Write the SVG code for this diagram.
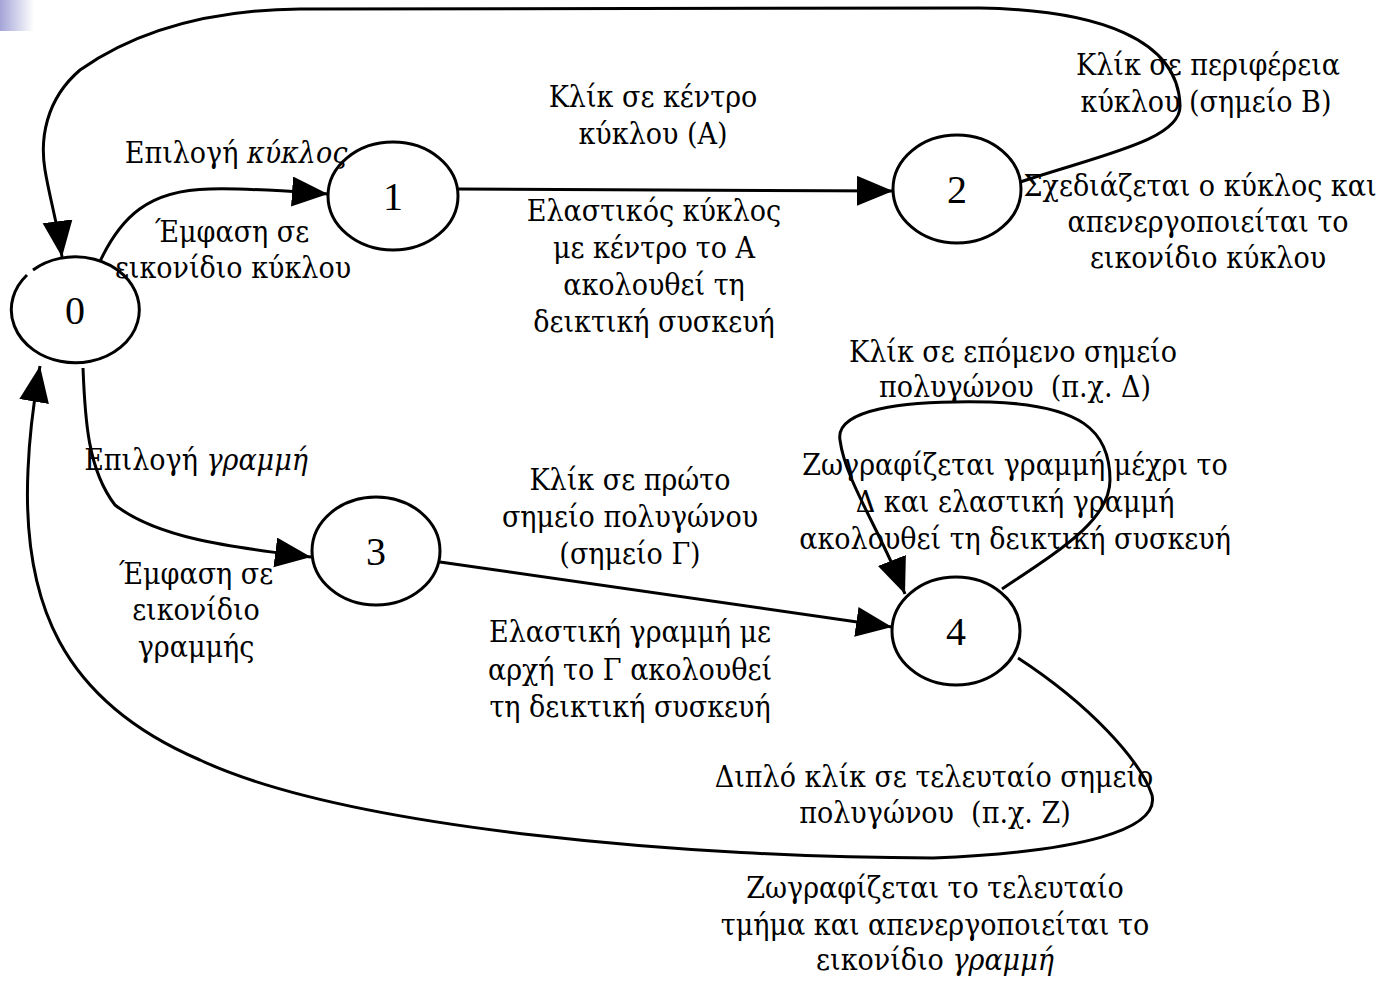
<svg xmlns="http://www.w3.org/2000/svg" width="1388" height="984" viewBox="0 0 1388 984">
<defs>
<linearGradient id="corner" x1="0" y1="0" x2="1" y2="0">
<stop offset="0" stop-color="#a4a4d8"/>
<stop offset="1" stop-color="#ffffff"/>
</linearGradient>
<marker id="arr" markerUnits="userSpaceOnUse" markerWidth="38" markerHeight="32" refX="36" refY="15" orient="auto">
<path d="M0,0 L36,15 L0,30 z" fill="#000"/>
</marker>
<style>
.node{fill:#fff;stroke:#000;stroke-width:3}
.edge{fill:none;stroke:#000;stroke-width:3}
.nl{font-family:"Liberation Serif","Times New Roman",serif;font-size:40px;text-anchor:middle;fill:#000}
.lb{font-family:"DejaVu Serif Condensed","DejaVu Serif",serif;font-size:30px;text-anchor:middle;fill:#000}
.it{font-style:italic}
</style>
</defs>
<rect width="1388" height="984" fill="#fff"/>
<rect x="0" y="0" width="34" height="31" fill="url(#corner)"/>

<g id="connectors">
<path class="edge" d="M97,268 C120,215 150,190 210,189 C250,188 285,191 328,194" marker-end="url(#arr)"/>
<path class="edge" d="M458,189 L893,191" marker-end="url(#arr)"/>
<path class="edge" d="M1017,183 C1100,155 1182,140 1180,105 C1178,40 1100,10 980,8 L300,9 C200,10 130,35 80,70 C45,100 40,140 45,170 C50,200 58,225 62,257" marker-end="url(#arr)"/>
<path class="edge" d="M83,368 C85,420 88,470 115,505 C160,540 240,548 311,557" marker-end="url(#arr)"/>
<path class="edge" d="M440,562 L892,627" marker-end="url(#arr)"/>
<path class="edge" d="M1002,589 C1060,550 1110,520 1110,480 C1110,430 1080,405 990,402 C900,400 835,410 840,440 C845,480 880,530 905,594" marker-end="url(#arr)"/>
<path class="edge" d="M1018,658 C1090,705 1140,760 1152,795 C1160,830 1080,852 933,858 C700,858 350,830 200,760 C60,700 22,600 28,470 C30,420 36,390 40,366" marker-end="url(#arr)"/>
</g>

<g id="node0">
<path class="node" d="M33,270 A64,53 0 1,1 27,275"/>
<text class="nl" x="75" y="324">0</text>
</g>
<g id="node1">
<ellipse class="node" cx="393" cy="196" rx="65" ry="54"/>
<text class="nl" x="393" y="210">1</text>
</g>
<g id="node2">
<ellipse class="node" cx="957" cy="189" rx="64" ry="54"/>
<text class="nl" x="957" y="203">2</text>
</g>
<g id="node3">
<ellipse class="node" cx="376" cy="551" rx="64" ry="54"/>
<text class="nl" x="376" y="565">3</text>
</g>
<g id="node4">
<ellipse class="node" cx="956" cy="631" rx="64" ry="54"/>
<text class="nl" x="956" y="645">4</text>
</g>

<g id="labels">
<text class="lb" x="236" y="163">Επιλογή <tspan class="it">κύκλος</tspan></text>
<text class="lb" x="232" y="242">Έμφαση σε</text>
<text class="lb" x="233" y="278">εικονίδιο κύκλου</text>

<text class="lb" x="653" y="107">Κλίκ σε κέντρο</text>
<text class="lb" x="653" y="144">κύκλου (Α)</text>
<text class="lb" x="654" y="221">Ελαστικός κύκλος</text>
<text class="lb" x="654" y="258">με κέντρο το Α</text>
<text class="lb" x="654" y="295">ακολουθεί τη</text>
<text class="lb" x="654" y="332">δεικτική συσκευή</text>

<text class="lb" x="1208" y="75">Κλίκ σε περιφέρεια</text>
<text class="lb" x="1206" y="112">κύκλου (σημείο Β)</text>
<text class="lb" x="1200" y="196">Σχεδιάζεται ο κύκλος και</text>
<text class="lb" x="1208" y="232">απενεργοποιείται το</text>
<text class="lb" x="1208" y="268">εικονίδιο κύκλου</text>

<text class="lb" x="196" y="470">Επιλογή <tspan class="it">γραμμή</tspan></text>
<text class="lb" x="196" y="584">Έμφαση σε</text>
<text class="lb" x="196" y="620">εικονίδιο</text>
<text class="lb" x="196" y="657">γραμμής</text>

<text class="lb" x="630" y="490">Κλίκ σε πρώτο</text>
<text class="lb" x="630" y="527">σημείο πολυγώνου</text>
<text class="lb" x="630" y="564">(σημείο Γ)</text>
<text class="lb" x="630" y="642">Ελαστική γραμμή με</text>
<text class="lb" x="630" y="680">αρχή το Γ ακολουθεί</text>
<text class="lb" x="630" y="717">τη δεικτική συσκευή</text>

<text class="lb" x="1013" y="362">Κλίκ σε επόμενο σημείο</text>
<text class="lb" x="1015" y="397" xml:space="preserve">πολυγώνου  (π.χ. Δ)</text>
<text class="lb" x="1015" y="475">Ζωγραφίζεται γραμμή μέχρι το</text>
<text class="lb" x="1015" y="512">Δ και ελαστική γραμμή</text>
<text class="lb" x="1015" y="549">ακολουθεί τη δεικτική συσκευή</text>

<text class="lb" x="934" y="787">Διπλό κλίκ σε τελευταίο σημείο</text>
<text class="lb" x="935" y="823" xml:space="preserve">πολυγώνου  (π.χ. Ζ)</text>
<text class="lb" x="935" y="898">Ζωγραφίζεται το τελευταίο</text>
<text class="lb" x="935" y="935">τμήμα και απενεργοποιείται το</text>
<text class="lb" x="935" y="970">εικονίδιο <tspan class="it">γραμμή</tspan></text>
</g>
</svg>
